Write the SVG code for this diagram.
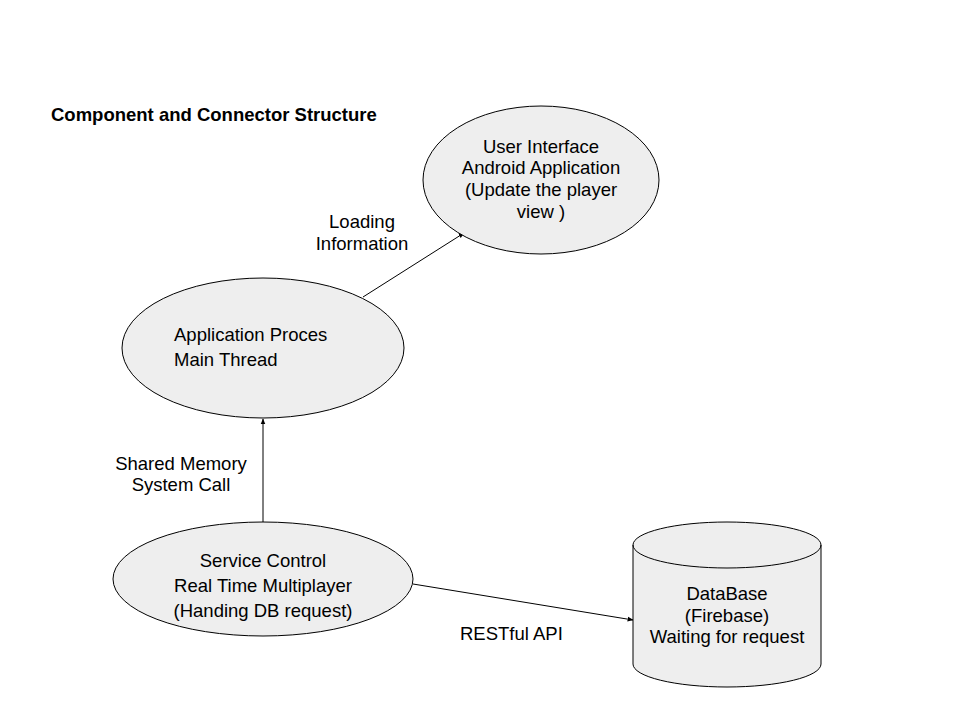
<svg xmlns="http://www.w3.org/2000/svg" width="960" height="720" viewBox="0 0 960 720">
<style>
.node{fill:#eeeeee;stroke:#000;stroke-width:1}
.t{font-family:"Liberation Sans",Arial,sans-serif;font-size:18.5px;fill:#000}
.c{text-anchor:middle}
.conn{stroke:#000;stroke-width:1;fill:none;marker-end:url(#arr)}
</style>
<defs>
<marker id="arr" viewBox="0 0 10 10" refX="9" refY="5" markerWidth="6" markerHeight="6" orient="auto" markerUnits="userSpaceOnUse">
<path d="M0,1 L10,5 L0,9 z" fill="#000"/>
</marker>
</defs>
<rect width="960" height="720" fill="#fff"/>
<text class="t" x="51" y="121" font-weight="bold">Component and Connector Structure</text>
<g id="connectors">
<line class="conn" x1="363" y1="297" x2="464" y2="233"/>
<line class="conn" x1="263" y1="522" x2="263" y2="419"/>
<line class="conn" x1="413" y1="584" x2="633" y2="620"/>
<text class="t c" x="362" y="228">Loading</text>
<text class="t c" x="362" y="250">Information</text>
<text class="t c" x="181" y="470">Shared Memory</text>
<text class="t c" x="181" y="491">System Call</text>
<text class="t" x="460" y="640">RESTful API</text>
</g>
<g id="ui">
<ellipse class="node" cx="541" cy="180" rx="118" ry="74"/>
<text class="t c" x="541" y="153">User Interface</text>
<text class="t c" x="541" y="174">Android Application</text>
<text class="t c" x="541" y="196">(Update the player</text>
<text class="t c" x="541" y="218">view )</text>
</g>
<g id="app">
<ellipse class="node" cx="263" cy="348" rx="141" ry="70"/>
<text class="t" x="174" y="341">Application Proces</text>
<text class="t" x="174" y="366">Main Thread</text>
</g>
<g id="service">
<ellipse class="node" cx="263" cy="579" rx="150" ry="57"/>
<text class="t c" x="263" y="567">Service Control</text>
<text class="t c" x="263" y="592">Real Time Multiplayer</text>
<text class="t c" x="263" y="617">(Handing DB request)</text>
</g>
<g id="db">
<path class="node" d="M633,545 L633,664 A94,23 0 0 0 821,664 L821,545 A94,23 0 0 0 633,545 Z"/>
<path d="M633,545 A94,23 0 0 0 821,545" fill="none" stroke="#000" stroke-width="1"/>
<text class="t c" x="727" y="600">DataBase</text>
<text class="t c" x="727" y="622">(Firebase)</text>
<text class="t c" x="727" y="643">Waiting for request</text>
</g>
</svg>
